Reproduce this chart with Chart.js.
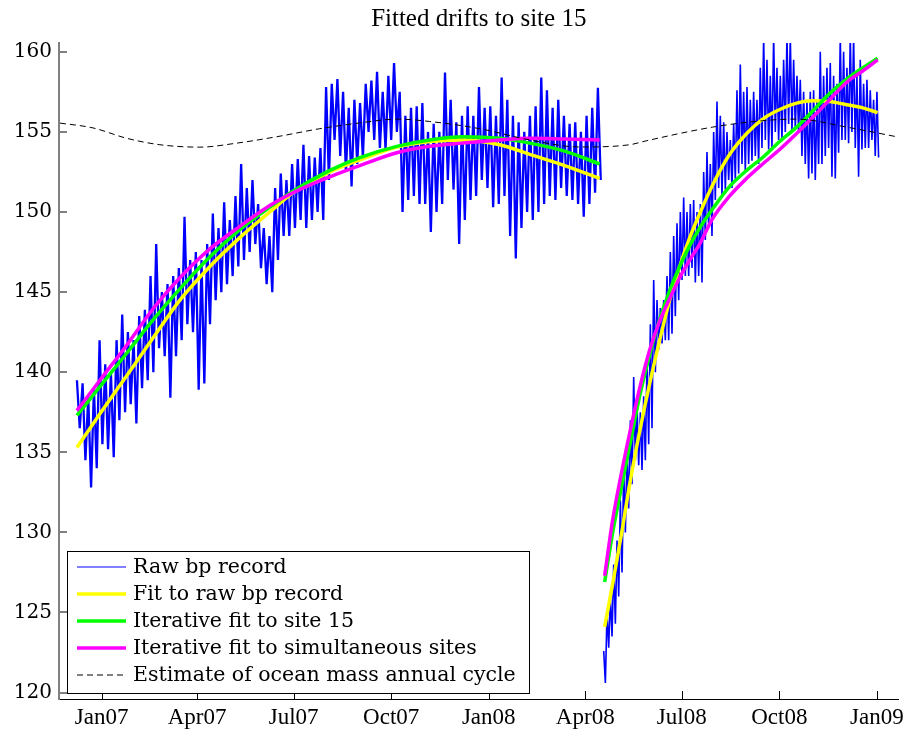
<!DOCTYPE html>
<html>
<head>
<meta charset="UTF-8">
<title>Fitted drifts to site 15</title>
<script src="https://cdn.jsdelivr.net/npm/chart.js@4.4.1/dist/chart.umd.min.js"></script>
<style>
    html, body { margin: 0; padding: 0; background: #fff; }
</style>
</head>
<body>
<canvas id="drifts" width="909" height="730"></canvas>
<script>
// x axis is days since 1 Jan 2007
const tickDays = [0, 90, 181, 273, 365, 456, 547, 639, 731];
const tickNames = ['Jan07', 'Apr07', 'Jul07', 'Oct07', 'Jan08', 'Apr08', 'Jul08', 'Oct08', 'Jan09'];
const yTicks = [120, 125, 130, 135, 140, 145, 150, 155, 160];

// raw bp record, read as high/low pairs along the record
const raw1Span = [-23.3, 470.6];
const raw1 = [
    139.5, 136.5, 139.3, 134.5, 138.5, 132.8, 139.0, 134.0, 142.0, 135.5,
    140.5, 135.2, 140.0, 134.7, 142.0, 137.0, 143.6, 137.5, 142.5, 138.0,
    142.0, 136.8, 143.5, 139.0, 143.9, 139.5, 146.0, 140.0, 148.0, 141.5,
    145.0, 141.0, 145.5, 138.4, 146.0, 141.0, 146.5, 142.0, 149.7, 143.0,
    147.0, 142.5, 147.5, 138.9, 147.0, 139.3, 148.0, 143.0, 149.9, 144.5,
    149.0, 145.0, 150.6, 145.5, 149.5, 146.0, 151.0, 146.6, 153.0, 147.0,
    151.5, 147.5, 152.0, 148.0, 150.5, 146.5, 149.0, 145.5, 148.5, 145.0,
    151.5, 147.0, 152.4, 148.5, 152.0, 148.5, 153.0, 149.0, 153.3, 149.5,
    154.2, 149.0, 153.5, 149.5, 153.4, 150.0, 154.0, 149.5, 157.8, 152.0,
    158.0, 154.5, 158.3, 153.5, 157.5, 152.5, 156.5, 151.6, 157.0, 153.0,
    156.8, 153.4, 158.0, 155.0, 158.2, 154.5, 158.75, 154.0, 157.5, 153.9,
    158.5, 154.5, 159.3, 155.0, 157.5, 150.0, 156.0, 150.75, 156.5, 151.0,
    156.6, 150.5, 156.8, 150.5, 155.0, 148.75, 155.5, 150.0, 155.0, 150.5,
    158.7, 152.0, 157.0, 151.4, 155.6, 148.0, 156.0, 149.5, 156.6, 150.75,
    156.0, 151.0, 157.8, 152.0, 156.5, 151.5, 156.6, 150.3, 156.0, 150.5,
    158.4, 151.0, 157.0, 148.5, 156.0, 147.1, 155.6, 149.0, 155.0, 150.0,
    156.0, 149.5, 156.6, 150.0, 158.4, 150.5, 157.6, 151.0, 156.5, 150.75,
    157.0, 151.5, 156.0, 151.0, 155.5, 150.75, 155.6, 150.5, 155.0, 149.7,
    156.0, 150.5, 156.5, 151.2, 157.75, 152.0
];
const raw2Span = [473.4, 732.6];
const raw2 = [
    122.6, 120.6, 125.0, 122.8, 126.0, 123.5, 128.0, 124.3, 129.5, 126.0,
    132.0, 127.5, 134.0, 130.0, 135.0, 131.5, 137.0, 133.0, 139.7, 134.5,
    138.0, 134.2, 137.5, 133.9, 138.5, 134.5, 140.75, 135.5, 143.0, 136.5,
    145.75, 140.0, 144.5, 141.4, 144.0, 141.8, 144.5, 142.0, 146.0, 142.0,
    147.5, 142.4, 148.5, 143.5, 149.3, 144.5, 150.0, 145.75, 150.9, 146.0,
    150.0, 146.0, 150.5, 146.5, 150.75, 145.6, 150.0, 146.0, 150.5, 145.6,
    152.5, 148.25, 153.75, 149.0, 153.0, 148.5, 155.0, 150.75, 156.9, 151.5,
    156.0, 151.0, 155.6, 151.4, 155.0, 152.0, 154.5, 151.5, 155.5, 152.0,
    157.6, 152.4, 159.2, 153.0, 157.5, 152.5, 157.8, 153.0, 157.0, 153.2,
    157.5, 153.5, 157.0, 153.0, 159.0, 154.0, 161.0, 154.5, 159.5, 153.9,
    158.5, 154.0, 161.0, 155.0, 159.0, 154.5, 158.5, 154.5, 159.5, 155.0,
    161.0, 155.5, 161.0, 155.0, 159.5, 155.2, 158.5, 155.0, 158.25, 153.5,
    157.5, 153.0, 157.0, 152.1, 157.5, 152.4, 157.6, 152.0, 157.0, 153.0,
    160.0, 153.0, 158.5, 153.5, 159.0, 154.0, 159.3, 152.2, 158.5, 152.1,
    158.0, 153.7, 161.0, 154.5, 160.0, 154.5, 159.0, 154.3, 161.0, 155.0,
    161.0, 154.0, 158.5, 152.2, 159.5, 153.9, 158.0, 154.0, 158.25, 154.0,
    157.6, 154.5, 157.0, 153.5, 157.5, 153.4
];

// fitted drifts, first and second deployment
const fitDays1 = [-23.3, -1.6, 23.8, 50.2, 73.8, 102.1, 130.3, 158.6, 180.3, 215.2, 243.4, 278.3, 309.4, 340.5, 375.4, 403.6, 436.6, 469.6];
const yellow1 = [135.3, 137.4, 139.8, 142.3, 144.5, 146.6, 148.4, 150.0, 151.2, 152.5, 153.25, 154.05, 154.4, 154.5, 154.2, 153.6, 152.9, 152.1];
const green1 = [137.3, 139.1, 141.2, 143.4, 145.2, 147.2, 148.9, 150.3, 151.3, 152.6, 153.4, 154.1, 154.5, 154.7, 154.6, 154.3, 153.8, 153.0];
const magenta1 = [137.6, 139.5, 141.7, 144.1, 145.9, 147.7, 149.1, 150.4, 151.2, 152.2, 152.9, 153.7, 154.1, 154.3, 154.5, 154.6, 154.55, 154.5];

const fitDays2 = [474.3, 481.9, 490.4, 497.9, 507.3, 516.8, 526.2, 535.6, 545.0, 554.5, 563.9, 576.2, 592.2, 608.2, 623.3, 639.3, 655.3, 670.4, 686.4, 702.5, 717.6, 731.7];
const yellow2 = [124.1, 126.8, 130.0, 133.0, 136.3, 139.3, 142.0, 144.5, 146.6, 148.4, 149.9, 151.7, 153.6, 154.9, 155.8, 156.4, 156.8, 156.95, 156.9, 156.7, 156.5, 156.2];
const green2 = [126.9, 130.0, 132.9, 135.4, 138.5, 141.1, 143.3, 145.1, 146.6, 147.9, 149.0, 150.2, 151.6, 152.6, 153.4, 154.4, 155.3, 156.3, 157.4, 158.3, 159.0, 159.6];
const magenta2 = [127.3, 130.8, 133.8, 136.2, 139.0, 141.4, 143.2, 144.6, 145.9, 147.0, 148.0, 149.6, 151.0, 152.1, 153.0, 153.9, 154.9, 155.9, 157.0, 158.1, 158.8, 159.5];

// ocean mass annual cycle
const cycleDays = [-39.3, -8.2, 23.8, 54.9, 92.6, 127.5, 165.2, 205.7, 243.4, 278.3, 309.4, 356.5, 403.6, 450.8, 497.9, 513.9, 576.2, 623.3, 655.3, 702.5, 749.5];
const cycleVals = [155.55, 155.25, 154.6, 154.2, 154.05, 154.3, 154.7, 155.2, 155.56, 155.8, 155.65, 155.2, 154.5, 154.06, 154.2, 154.45, 155.3, 155.7, 155.8, 155.3, 154.7];

function spread(vals, span) {
    return vals.map((v, i) => ({ x: span[0] + (span[1] - span[0]) * i / (vals.length - 1), y: v }));
}
function pairs(days, vals) {
    return days.map((d, i) => ({ x: d, y: vals[i] }));
}
const gap = { x: 472, y: null };

const rawData = spread(raw1, raw1Span).concat([gap], spread(raw2, raw2Span));
const yellowData = pairs(fitDays1, yellow1).concat([gap], pairs(fitDays2, yellow2));
const greenData = pairs(fitDays1, green1).concat([gap], pairs(fitDays2, green2));
const magentaData = pairs(fitDays1, magenta1).concat([gap], pairs(fitDays2, magenta2));
const cycleData = pairs(cycleDays, cycleVals);

// inward tick marks, like the original axes
const innerTicks = {
    id: 'innerTicks',
    afterDatasetsDraw(chart) {
        const { ctx, chartArea: a, scales: { x, y } } = chart;
        ctx.save();
        ctx.strokeStyle = '#808080';
        ctx.lineWidth = 2;
        ctx.beginPath();
        yTicks.forEach(v => {
            const py = Math.round(y.getPixelForValue(v));
            ctx.moveTo(a.left, py);
            ctx.lineTo(a.left + 8, py);
        });
        ctx.stroke();
        ctx.strokeStyle = '#000';
        ctx.lineWidth = 1;
        ctx.beginPath();
        tickDays.forEach(d => {
            const px = Math.round(x.getPixelForValue(d)) + 0.5;
            ctx.moveTo(px, a.bottom);
            ctx.lineTo(px, a.bottom - 8);
        });
        ctx.stroke();
        ctx.restore();
    }
};

// boxed legend inside the lower left of the axes
const legendWidths = [1, 3.5, 3.5, 3.5, 1];
const boxLegend = {
    id: 'boxLegend',
    afterDraw(chart) {
        const ctx = chart.ctx;
        const x0 = 67, y0 = 551, w = 462, h = 142;
        ctx.save();
        ctx.fillStyle = '#fff';
        ctx.fillRect(x0, y0, w, h);
        ctx.strokeStyle = '#000';
        ctx.lineWidth = 1;
        ctx.strokeRect(x0 + 0.5, y0 + 0.5, w, h);
        ctx.font = '20.5px "DejaVu Serif"';
        ctx.textBaseline = 'middle';
        chart.data.datasets.forEach((ds, i) => {
            const ly = Math.round(y0 + 16 + i * 27);
            ctx.strokeStyle = ds.borderColor;
            ctx.lineWidth = legendWidths[i];
            ctx.setLineDash(ds.borderDash || []);
            ctx.beginPath();
            ctx.moveTo(x0 + 10, ly);
            ctx.lineTo(x0 + 59, ly);
            ctx.stroke();
            ctx.setLineDash([]);
            ctx.fillStyle = '#000';
            ctx.fillText(ds.label, x0 + 66, ly + 1);
        });
        ctx.restore();
    }
};

new Chart(document.getElementById('drifts'), {
    type: 'line',
    data: {
        datasets: [
            {
                label: 'Raw bp record', data: rawData, borderColor: '#0000ff', borderWidth: 1.6, order: 5,
                // first deployment is sampled more sparsely, so draw it a bit heavier
                segment: { borderWidth: c => (c.p0.parsed.x < 472 ? 2.3 : 1.6) }
            },
            { label: 'Fit to raw bp record', data: yellowData, borderColor: '#ffff00', borderWidth: 3.5, cubicInterpolationMode: 'monotone', order: 4 },
            { label: 'Iterative fit to site 15', data: greenData, borderColor: '#00ff00', borderWidth: 3.5, cubicInterpolationMode: 'monotone', order: 3 },
            { label: 'Iterative fit to simultaneous sites', data: magentaData, borderColor: '#ff00ff', borderWidth: 3.5, cubicInterpolationMode: 'monotone', order: 2 },
            { label: 'Estimate of ocean mass annual cycle', data: cycleData, borderColor: '#000000', borderWidth: 1, borderDash: [6, 4], cubicInterpolationMode: 'monotone', order: 1 }
        ]
    },
    options: {
        responsive: false,
        devicePixelRatio: 1,
        animation: false,
        events: [],
        spanGaps: false,
        elements: { point: { radius: 0 } },
        layout: { padding: { left: 0, right: 10, top: 0, bottom: 0 } },
        scales: {
            x: {
                type: 'linear',
                min: -40.2,
                max: 751.4,
                afterBuildTicks: s => { s.ticks = tickDays.map(v => ({ value: v })); },
                afterFit: s => { s.height = 31; },
                grid: { display: false, drawTicks: false },
                border: { display: true, color: '#000', width: 1 },
                ticks: {
                    autoSkip: false,
                    maxRotation: 0,
                    padding: 5,
                    color: '#000',
                    font: { family: 'Liberation Serif', size: 23 },
                    callback: v => tickNames[tickDays.indexOf(v)]
                }
            },
            y: {
                min: 119.6,
                max: 160.55,
                afterBuildTicks: s => { s.ticks = yTicks.map(v => ({ value: v })); },
                afterFit: s => { s.width = 59; },
                grid: { display: false, drawTicks: false },
                border: { display: true, color: '#808080', width: 2 },
                ticks: {
                    padding: 7,
                    color: '#000',
                    font: { family: 'DejaVu Serif', size: 20 }
                }
            }
        },
        plugins: {
            legend: { display: false },
            tooltip: { enabled: false },
            title: {
                display: true,
                text: 'Fitted drifts to site 15',
                fullSize: false,
                color: '#000',
                font: { family: 'Liberation Serif', size: 25, weight: 'normal' },
                padding: { top: 4, bottom: 9 }
            }
        }
    },
    plugins: [innerTicks, boxLegend]
});
</script>
</body>
</html>
